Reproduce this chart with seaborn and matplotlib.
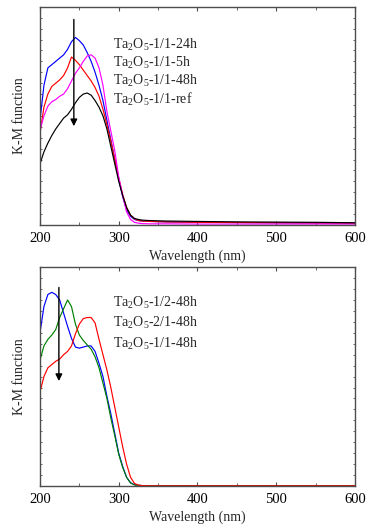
import numpy as np
import pandas as pd
import seaborn as sns
import matplotlib.pyplot as plt
from matplotlib.ticker import MultipleLocator

# Wavelength grid (nm)
wl = [200, 205, 210, 215, 220, 225, 230, 235, 240, 245, 250, 255, 260, 265,
      270, 275, 280, 285, 290, 295, 300, 305, 310, 315, 320, 325, 330,
      340, 360, 400, 450, 500, 550, 600]

# Top panel: K-M function (arbitrary units, axis 0..1)
top_24h = [0.48, 0.64, 0.72, 0.735, 0.75, 0.765, 0.78, 0.805, 0.84, 0.86, 0.845, 0.825, 0.79, 0.75,
           0.70, 0.64, 0.57, 0.48, 0.39, 0.30, 0.21, 0.13, 0.07, 0.04, 0.025, 0.02, 0.018,
           0.016, 0.014, 0.012, 0.011, 0.010, 0.009, 0.008]
top_5h = [0.42, 0.54, 0.60, 0.635, 0.65, 0.665, 0.685, 0.72, 0.77, 0.755, 0.735, 0.71, 0.685, 0.66,
          0.63, 0.59, 0.53, 0.46, 0.385, 0.30, 0.215, 0.14, 0.08, 0.045, 0.028, 0.02, 0.018,
          0.016, 0.014, 0.012, 0.011, 0.010, 0.009, 0.008]
top_48h = [0.435, 0.50, 0.545, 0.565, 0.575, 0.59, 0.60, 0.625, 0.66, 0.695, 0.72, 0.75, 0.775, 0.78,
           0.765, 0.72, 0.64, 0.52, 0.43, 0.34, 0.22, 0.135, 0.06, 0.025, 0.012, 0.008, 0.006,
           0.005, 0.005, 0.004, 0.004, 0.004, 0.004, 0.004]
top_ref = [0.28, 0.335, 0.375, 0.41, 0.44, 0.465, 0.49, 0.505, 0.53, 0.56, 0.585, 0.60, 0.605, 0.595,
           0.57, 0.54, 0.50, 0.44, 0.36, 0.28, 0.20, 0.135, 0.08, 0.045, 0.03, 0.025, 0.022,
           0.02, 0.018, 0.016, 0.014, 0.013, 0.012, 0.010]

# Bottom panel
bot_12 = [0.70, 0.82, 0.875, 0.885, 0.875, 0.85, 0.79, 0.73, 0.675, 0.635, 0.63, 0.635, 0.64, 0.64,
          0.615, 0.56, 0.50, 0.41, 0.33, 0.24, 0.15, 0.09, 0.04, 0.015, 0.006, 0.003, 0.002,
          0.001, 0.001, 0.001, 0.001, 0.001, 0.001, 0.001]
bot_21 = [0.575, 0.64, 0.67, 0.69, 0.715, 0.77, 0.81, 0.85, 0.82, 0.74, 0.69, 0.665, 0.645, 0.625,
          0.59, 0.54, 0.47, 0.40, 0.31, 0.23, 0.145, 0.085, 0.04, 0.014, 0.005, 0.003, 0.002,
          0.001, 0.001, 0.001, 0.001, 0.001, 0.001, 0.001]
bot_11 = [0.43, 0.50, 0.54, 0.555, 0.57, 0.58, 0.60, 0.615, 0.64, 0.695, 0.74, 0.765, 0.77, 0.77,
          0.745, 0.67, 0.60, 0.53, 0.45, 0.36, 0.27, 0.18, 0.10, 0.04, 0.012, 0.004, 0.002,
          0.001, 0.001, 0.001, 0.001, 0.001, 0.001, 0.001]

top_names = ["Ta$_2$O$_5$-1/1-24h", "Ta$_2$O$_5$-1/1-5h", "Ta$_2$O$_5$-1/1-48h", "Ta$_2$O$_5$-1/1-ref"]
top_colors = ["#0000ff", "#ff0000", "#ff00ff", "#000000"]
bot_names = ["Ta$_2$O$_5$-1/2-48h", "Ta$_2$O$_5$-2/1-48h", "Ta$_2$O$_5$-1/1-48h"]
bot_colors = ["#0000ff", "#008000", "#ff0000"]

sns.set_theme(style="ticks")
plt.rcParams["font.family"] = ["Liberation Serif", "DejaVu Serif"]
plt.rcParams["mathtext.fontset"] = "custom"
plt.rcParams["mathtext.rm"] = "Liberation Serif"
plt.rcParams["mathtext.default"] = "rm"


def long_df(names, series):
    frames = [pd.DataFrame({"wl": wl, "km": s, "sample": n}) for n, s in zip(names, series)]
    return pd.concat(frames, ignore_index=True)


def style_axis(ax):
    ax.set_xlim(200, 600)
    ax.set_ylim(0, 1)
    ax.xaxis.set_major_locator(MultipleLocator(100))
    ax.xaxis.set_minor_locator(MultipleLocator(50))
    ax.yaxis.set_major_locator(MultipleLocator(0.05))
    ax.tick_params(axis="x", which="major", direction="in", length=3, width=0.8,
                   top=True, labelsize=10.5, pad=5, colors="0.3", labelcolor="black")
    ax.tick_params(axis="x", which="minor", direction="in", length=2, width=0.6, top=True, colors="0.3")
    ax.tick_params(axis="y", which="major", direction="in", length=1.5, width=0.6,
                   right=True, labelleft=False, colors="0.3")
    for sp in ax.spines.values():
        sp.set_color("0.3")
        sp.set_linewidth(1.0)
    ax.set_xlabel("Wavelength (nm)", fontsize=10, labelpad=3)
    ax.set_ylabel("K-M function", fontsize=10, labelpad=10)


fig = plt.figure(figsize=(3.72, 5.28), dpi=100)
ax1 = fig.add_axes([0.1075, 0.574, 0.8465, 0.413])
ax2 = fig.add_axes([0.1075, 0.0795, 0.8465, 0.4145])

df_top = long_df(top_names, [top_24h, top_5h, top_48h, top_ref])
sns.lineplot(data=df_top, x="wl", y="km", hue="sample", hue_order=top_names,
             palette=dict(zip(top_names, top_colors)), linewidth=0.85, legend=False, ax=ax1)
df_bot = long_df(bot_names, [bot_12, bot_21, bot_11])
sns.lineplot(data=df_bot, x="wl", y="km", hue="sample", hue_order=bot_names,
             palette=dict(zip(bot_names, bot_colors)), linewidth=0.85, legend=False, ax=ax2)

style_axis(ax1)
style_axis(ax2)

# labels in place of a legend
for i, n in enumerate(top_names):
    ax1.text(293, 0.825 - i * 0.083, n, fontsize=10, va="center", ha="left")
for i, n in enumerate(bot_names):
    ax2.text(293, 0.836 - i * 0.093, n, fontsize=10, va="center", ha="left")

# arrows
ax1.annotate("", xy=(243, 0.44), xytext=(243, 0.955),
             arrowprops=dict(arrowstyle="-|>", color="black", lw=1, mutation_scale=10))
ax2.annotate("", xy=(224, 0.467), xytext=(224, 0.92),
             arrowprops=dict(arrowstyle="-|>", color="black", lw=1, mutation_scale=10))

plt.savefig("out.png", dpi=100)
